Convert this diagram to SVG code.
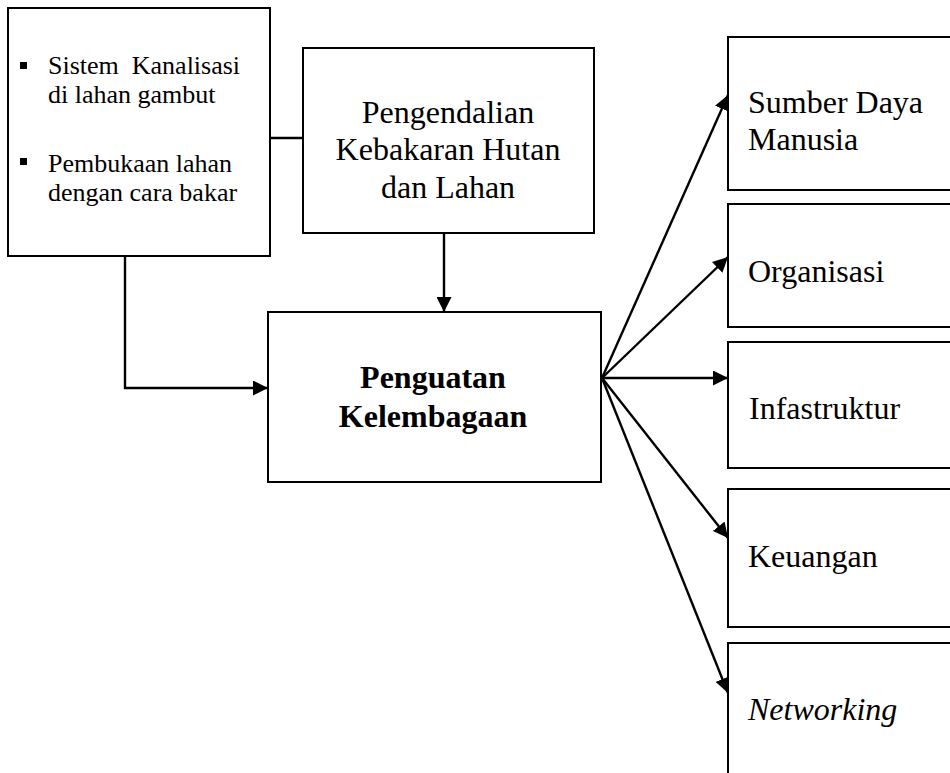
<svg xmlns="http://www.w3.org/2000/svg" width="950" height="773" viewBox="0 0 950 773">
<style>
.box{fill:#fff;stroke:#000;stroke-width:2}
.t{font-family:"Liberation Serif","Times New Roman",serif;fill:#000}
.m{font-size:32px}
.s{font-size:26px}
.c{stroke:#000;stroke-width:2.4;fill:none}
</style>
<defs>
<marker id="ah" markerUnits="userSpaceOnUse" markerWidth="16" markerHeight="15" refX="15" refY="7.5" orient="auto">
<path d="M0,0 L15,7.5 L0,15 Z" fill="#000"/>
</marker>
</defs>
<rect width="950" height="773" fill="#fff"/>
<g id="connectors">
<line class="c" x1="270" y1="138" x2="303" y2="138"/>
<line class="c" x1="444" y1="233" x2="444" y2="312" marker-end="url(#ah)"/>
<polyline class="c" points="125,256 125,388 268,388" marker-end="url(#ah)"/>
<line class="c" x1="602" y1="378" x2="728" y2="95" marker-end="url(#ah)"/>
<line class="c" x1="602" y1="378" x2="728" y2="257" marker-end="url(#ah)"/>
<line class="c" x1="602" y1="378" x2="728" y2="378" marker-end="url(#ah)"/>
<line class="c" x1="602" y1="378" x2="728" y2="538" marker-end="url(#ah)"/>
<line class="c" x1="602" y1="378" x2="728" y2="693" marker-end="url(#ah)"/>
</g>
<g id="faktor">
<rect class="box" x="8" y="8" width="262" height="248"/>
<rect x="20" y="62" width="7" height="7" fill="#000"/>
<rect x="20" y="158" width="7" height="7" fill="#000"/>
<text class="t s" x="48" y="74" xml:space="preserve">Sistem  Kanalisasi</text>
<text class="t s" x="48" y="103">di lahan gambut</text>
<text class="t s" x="48" y="172">Pembukaan lahan</text>
<text class="t s" x="48" y="201">dengan cara bakar</text>
</g>
<g id="pengendalian">
<rect class="box" x="303" y="48" width="291" height="185"/>
<text class="t m" x="448" y="123" text-anchor="middle">Pengendalian</text>
<text class="t m" x="448" y="160" text-anchor="middle">Kebakaran Hutan</text>
<text class="t m" x="448" y="198" text-anchor="middle">dan Lahan</text>
</g>
<g id="penguatan">
<rect class="box" x="268" y="312" width="333" height="170"/>
<text class="t m" x="433" y="388" text-anchor="middle" font-weight="bold">Penguatan</text>
<text class="t m" x="433" y="427" text-anchor="middle" font-weight="bold">Kelembagaan</text>
</g>
<g id="sdm">
<rect class="box" x="728" y="37" width="226" height="153"/>
<text class="t m" x="748" y="113">Sumber Daya</text>
<text class="t m" x="748" y="150">Manusia</text>
</g>
<g id="organisasi">
<rect class="box" x="728" y="204" width="226" height="123"/>
<text class="t m" x="748" y="282">Organisasi</text>
</g>
<g id="infrastruktur">
<rect class="box" x="728" y="342" width="226" height="126"/>
<text class="t m" x="749" y="419">Infastruktur</text>
</g>
<g id="keuangan">
<rect class="box" x="728" y="489" width="226" height="138"/>
<text class="t m" x="748" y="567">Keuangan</text>
</g>
<g id="networking">
<rect class="box" x="728" y="643" width="226" height="140"/>
<text class="t m" x="748" y="720" font-style="italic">Networking</text>
</g>
</svg>
